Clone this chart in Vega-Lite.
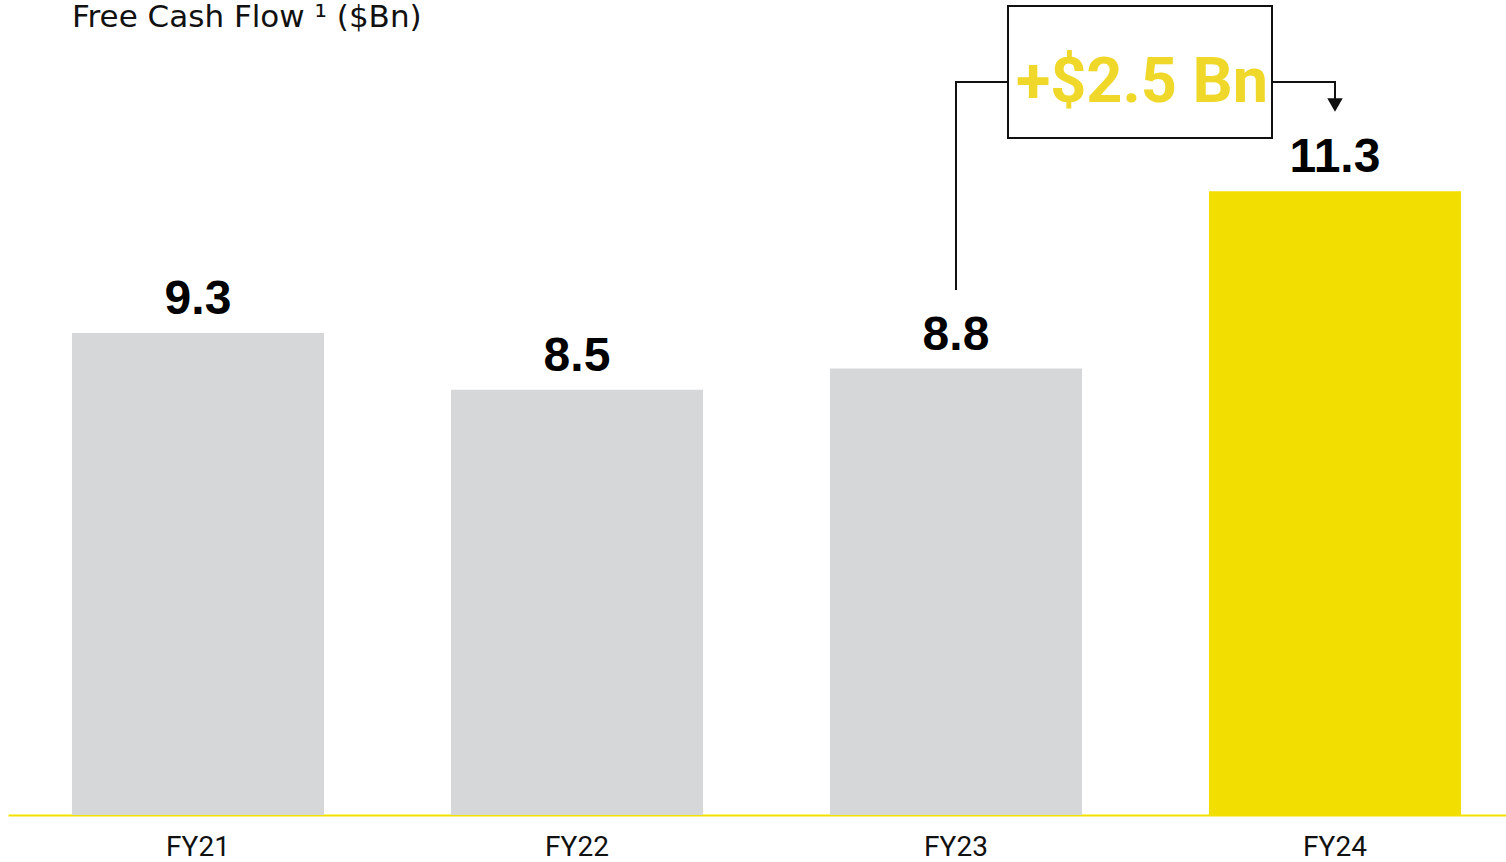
{
  "$schema": "https://vega.github.io/schema/vega-lite/v6.json",
  "autosize": {"type": "none"},
  "padding": {"left": 8, "top": 0, "right": 0, "bottom": 47},
  "width": 1498,
  "height": 815,
  "background": "white",
  "config": {"view": {"stroke": null}},
  "datasets": {
    "main": [
      {"year": "FY21", "value": 9.3, "group": "past"},
      {"year": "FY22", "value": 8.5, "group": "past"},
      {"year": "FY23", "value": 8.8, "group": "past"},
      {"year": "FY24", "value": 11.3, "group": "current"}
    ],
    "heading": [
      {"u": -0.3325, "v": 13.619, "text": "Free Cash Flow ¹ ($Bn)"}
    ],
    "box": [
      {"u1": 2.1372, "u2": 2.8338, "v1": 12.053, "v2": 13.915}
    ],
    "connector": [
      {"seg": "a", "ord": 1, "u": 2.0, "v": 9.908},
      {"seg": "a", "ord": 2, "u": 2.0, "v": 12.843},
      {"seg": "a", "ord": 3, "u": 2.1372, "v": 12.843},
      {"seg": "b", "ord": 1, "u": 2.8338, "v": 12.843},
      {"seg": "b", "ord": 2, "u": 3.0, "v": 12.843},
      {"seg": "b", "ord": 3, "u": 3.0, "v": 12.6}
    ],
    "arrow": [
      {"u": 3.0, "v": 12.518}
    ],
    "label": [
      {"u": 2.4908, "v": 12.561, "text": "+$2.5 Bn"}
    ]
  },
  "resolve": {"scale": {"x": "independent"}, "axis": {"x": "independent"}},
  "layer": [
    {
      "data": {"name": "main"},
      "mark": {"type": "bar"},
      "encoding": {
        "x": {
          "field": "year", "type": "nominal", "sort": null,
          "scale": {"type": "band", "paddingInner": 0.335, "paddingOuter": 0.14375, "align": 0.587},
          "axis": {
            "title": null, "ticks": false, "tickSize": 0, "grid": false,
            "domainColor": "#F2E100", "domainWidth": 2,
            "labelAngle": 0, "labelFont": "Roboto", "labelFontSize": 28,
            "labelColor": "#111111", "labelBaseline": "alphabetic", "labelPadding": 40
          }
        },
        "y": {"field": "value", "type": "quantitative", "scale": {"domain": [2.5, 14], "zero": false, "nice": false}, "axis": null},
        "y2": {"datum": 2.5},
        "color": {"field": "group", "type": "nominal", "scale": {"domain": ["past", "current"], "range": ["#D6D7D9", "#F2DE00"]}, "legend": null}
      }
    },
    {
      "data": {"name": "main"},
      "mark": {"type": "text", "baseline": "alphabetic", "align": "center", "dy": -19, "font": "Liberation Sans", "fontSize": 48, "fontWeight": "bold", "color": "#000000"},
      "encoding": {
        "x": {"field": "year", "type": "nominal", "sort": null, "scale": {"type": "band", "paddingInner": 0.335, "paddingOuter": 0.14375, "align": 0.587}, "axis": null},
        "y": {"field": "value", "type": "quantitative", "scale": {"domain": [2.5, 14], "zero": false, "nice": false}, "axis": null},
        "text": {"field": "value", "type": "quantitative", "format": ".1f"}
      }
    },
    {
      "data": {"name": "heading"},
      "mark": {"type": "text", "baseline": "alphabetic", "align": "left", "font": "DejaVu Sans", "fontSize": 31, "fontWeight": "normal", "color": "#111111"},
      "encoding": {
        "x": {"field": "u", "type": "quantitative", "scale": {"domain": [-0.5013, 3.4512], "zero": false, "nice": false}, "axis": null},
        "y": {"field": "v", "type": "quantitative", "scale": {"domain": [2.5, 14], "zero": false, "nice": false}, "axis": null},
        "text": {"field": "text"}
      }
    },
    {
      "data": {"name": "box"},
      "mark": {"type": "rect", "fill": "white", "stroke": "#111111", "strokeWidth": 2},
      "encoding": {
        "x": {"field": "u1", "type": "quantitative", "scale": {"domain": [-0.5013, 3.4512], "zero": false, "nice": false}, "axis": null},
        "x2": {"field": "u2"},
        "y": {"field": "v1", "type": "quantitative", "scale": {"domain": [2.5, 14], "zero": false, "nice": false}, "axis": null},
        "y2": {"field": "v2"}
      }
    },
    {
      "data": {"name": "connector"},
      "mark": {"type": "line", "stroke": "#111111", "strokeWidth": 2, "strokeJoin": "miter"},
      "encoding": {
        "x": {"field": "u", "type": "quantitative", "scale": {"domain": [-0.5013, 3.4512], "zero": false, "nice": false}, "axis": null},
        "y": {"field": "v", "type": "quantitative", "scale": {"domain": [2.5, 14], "zero": false, "nice": false}, "axis": null},
        "detail": {"field": "seg", "type": "nominal"},
        "order": {"field": "ord", "type": "quantitative"}
      }
    },
    {
      "data": {"name": "arrow"},
      "mark": {"type": "point", "shape": "triangle-down", "filled": true, "color": "#111111", "size": 240, "opacity": 1},
      "encoding": {
        "x": {"field": "u", "type": "quantitative", "scale": {"domain": [-0.5013, 3.4512], "zero": false, "nice": false}, "axis": null},
        "y": {"field": "v", "type": "quantitative", "scale": {"domain": [2.5, 14], "zero": false, "nice": false}, "axis": null}
      }
    },
    {
      "data": {"name": "label"},
      "mark": {"type": "text", "baseline": "alphabetic", "align": "center", "font": "Roboto", "fontSize": 63, "fontWeight": "bold", "color": "#EFD829"},
      "encoding": {
        "x": {"field": "u", "type": "quantitative", "scale": {"domain": [-0.5013, 3.4512], "zero": false, "nice": false}, "axis": null},
        "y": {"field": "v", "type": "quantitative", "scale": {"domain": [2.5, 14], "zero": false, "nice": false}, "axis": null},
        "text": {"field": "text"}
      }
    }
  ]
}
